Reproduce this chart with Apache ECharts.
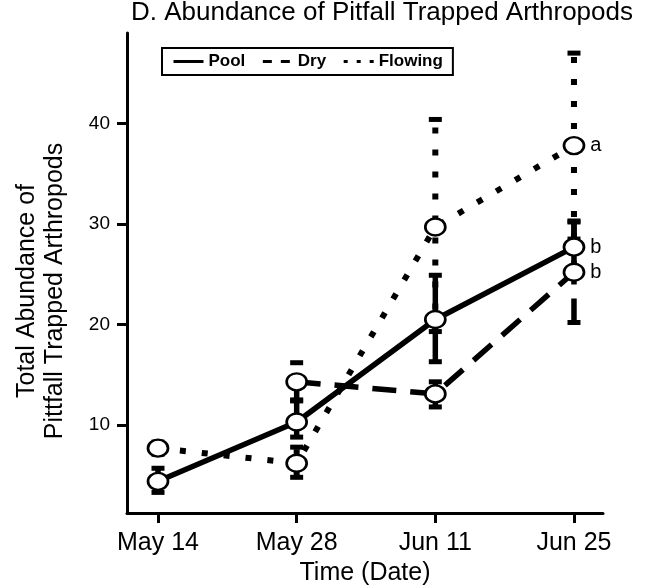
<!DOCTYPE html>
<html>
<head>
<meta charset="utf-8">
<script src="https://cdn.jsdelivr.net/npm/echarts@6/dist/echarts.min.js"></script>
<style>
html,body{margin:0;padding:0;background:#fff;}
#chart{width:645px;height:587px;}
</style>
</head>
<body>
<div id="chart"></div>
<script>
// ---- data ----
const categories = ['May 14', 'May 28', 'Jun 11', 'Jun 25'];
const dayOffsets = [0, 14, 28, 42];
const yTicks = [10, 20, 30, 40];

const poolMean = [4.4, 10.3, 20.5, 27.7];
const poolLow  = [3.3, 8.8, 16.3, 25.1];
const poolHigh = [5.7, 12.5, 24.9, 30.3];

const dryMean = [null, 14.3, 13.1, 25.2];
const dryLow  = [null, 12.4, 11.8, 20.2];
const dryHigh = [null, 16.2, 14.3, 30.2];

const flowMean = [7.7, 6.2, 29.7, 37.8];
const flowLow  = [7.1, 4.8, 19.3, 28.5];
const flowHigh = [8.3, 7.8, 40.4, 47.0];

const poolLetters = ['', '', '', 'b'];
const dryLetters  = ['', '', '', 'b'];
const flowLetters = ['', '', '', 'a'];

// ---- styles ----
const FONT = 'Liberation Sans, Arial, Helvetica, sans-serif';
const styles = {
  Pool:    { dash: 'solid',  width: 5.5, legendDash: 'solid' },
  Dry:     { dash: [24, 14], width: 5.5, legendDash: [9, 9] },
  Flowing: { dash: [6, 16],  width: 6,   legendDash: [4, 9] }
};

function pts(mean) {
  return mean.map((v, i) => [dayOffsets[i], v]);
}
function errData(low, high) {
  const out = [];
  low.forEach((l, i) => { if (l != null) out.push([dayOffsets[i], l, high[i]]); });
  return out;
}
function errSeries(name, low, high) {
  const st = styles[name];
  return {
    type: 'custom',
    name: name + ' SE',
    z: 1,
    silent: true,
    data: errData(low, high),
    encode: { x: 0, y: [1, 2] },
    renderItem: function (params, api) {
      const x = api.value(0);
      const pLo = api.coord([x, api.value(1)]);
      const pHi = api.coord([x, api.value(2)]);
      const capW = 13, capH = 5;
      return {
        type: 'group',
        children: [
          { type: 'line', shape: { x1: pLo[0], y1: pLo[1], x2: pHi[0], y2: pHi[1] },
            style: { stroke: '#000', lineWidth: st.width, lineDash: st.dash === 'solid' ? null : st.dash } },
          { type: 'rect', shape: { x: pHi[0] - capW / 2, y: pHi[1] - capH / 2, width: capW, height: capH },
            style: { fill: '#000' } },
          { type: 'rect', shape: { x: pLo[0] - capW / 2, y: pLo[1] - capH / 2, width: capW, height: capH },
            style: { fill: '#000' } }
        ]
      };
    }
  };
}
function lineSeries(name, mean) {
  const st = styles[name];
  return {
    type: 'line',
    name: name,
    z: 2,
    symbol: 'none',
    connectNulls: false,
    data: pts(mean),
    lineStyle: { color: '#000', width: st.width, type: st.dash, cap: 'butt' },
    itemStyle: { color: '#000' }
  };
}
function pointSeries(name, mean, letters) {
  return {
    type: 'scatter',
    name: name + ' pts',
    z: 3,
    symbol: 'circle',
    symbolSize: [20, 17],
    data: mean.map((v, i) => ({ value: [dayOffsets[i], v], letter: letters[i] })).filter(d => d.value[1] != null),
    itemStyle: { color: '#fff', borderColor: '#000', borderWidth: 2.5, opacity: 1 },
    label: {
      show: true, position: 'right', distance: 5,
      formatter: p => p.data.letter,
      color: '#000', fontFamily: FONT, fontSize: 20
    },
    emphasis: { disabled: true }
  };
}
function legendItem(name) {
  return {
    name: name,
    itemStyle: { opacity: 0 },
    lineStyle: { width: 3, type: styles[name].legendDash, color: '#000', opacity: 1 }
  };
}

const chart = echarts.init(document.getElementById('chart'), null, { renderer: 'canvas' });
chart.setOption({
  animation: false,
  backgroundColor: '#fff',
  title: {
    text: 'D. Abundance of Pitfall Trapped Arthropods',
    left: 131, top: 0, padding: 0,
    textStyle: { fontFamily: FONT, fontSize: 26, fontWeight: 'normal', color: '#000' }
  },
  legend: {
    left: 162, top: 48,
    padding: [5, 10, 5, 10],
    borderColor: '#000', borderWidth: 2,
    itemWidth: 30, itemHeight: 14, itemGap: 16,
    selectedMode: false,
    textStyle: { fontFamily: FONT, fontSize: 17, fontWeight: 'bold', color: '#000' },
    data: ['Pool', 'Dry', 'Flowing'].map(legendItem)
  },
  grid: { left: 127, right: 42, top: 33, bottom: 74, containLabel: false, outerBoundsMode: 'none' },
  xAxis: {
    type: 'value',
    min: -3.13, max: 44.93,
    name: 'Time (Date)',
    nameLocation: 'middle', nameGap: 43,
    nameTextStyle: { fontFamily: FONT, fontSize: 25, color: '#000' },
    axisLine: { show: true, onZero: false, lineStyle: { color: '#000', width: 3 } },
    axisTick: { show: true, length: 10, lineStyle: { color: '#000', width: 3 }, customValues: dayOffsets },
    axisLabel: {
      customValues: dayOffsets, margin: 18,
      formatter: v => categories[dayOffsets.indexOf(v)] || '',
      fontFamily: FONT, fontSize: 25, color: '#000'
    },
    splitLine: { show: false }
  },
  yAxis: {
    type: 'value',
    min: 1.25, max: 49,
    name: 'Total Abundance of\nPittfall Trapped Arthropods',
    nameLocation: 'middle', nameGap: 58,
    nameTextStyle: { fontFamily: FONT, fontSize: 25, lineHeight: 28, color: '#000', align: 'center', padding: [0, 36, 0, 0] },
    axisLine: { show: true, onZero: false, lineStyle: { color: '#000', width: 3 } },
    axisTick: { show: true, length: 10, lineStyle: { color: '#000', width: 3 }, customValues: yTicks },
    axisLabel: { customValues: yTicks, margin: 17, fontFamily: FONT, fontSize: 19, color: '#000' },
    splitLine: { show: false }
  },
  series: [
    errSeries('Pool', poolLow, poolHigh),
    errSeries('Dry', dryLow, dryHigh),
    errSeries('Flowing', flowLow, flowHigh),
    lineSeries('Pool', poolMean),
    lineSeries('Dry', dryMean),
    lineSeries('Flowing', flowMean),
    pointSeries('Pool', poolMean, poolLetters),
    pointSeries('Dry', dryMean, dryLetters),
    pointSeries('Flowing', flowMean, flowLetters)
  ]
});
</script>
</body>
</html>
